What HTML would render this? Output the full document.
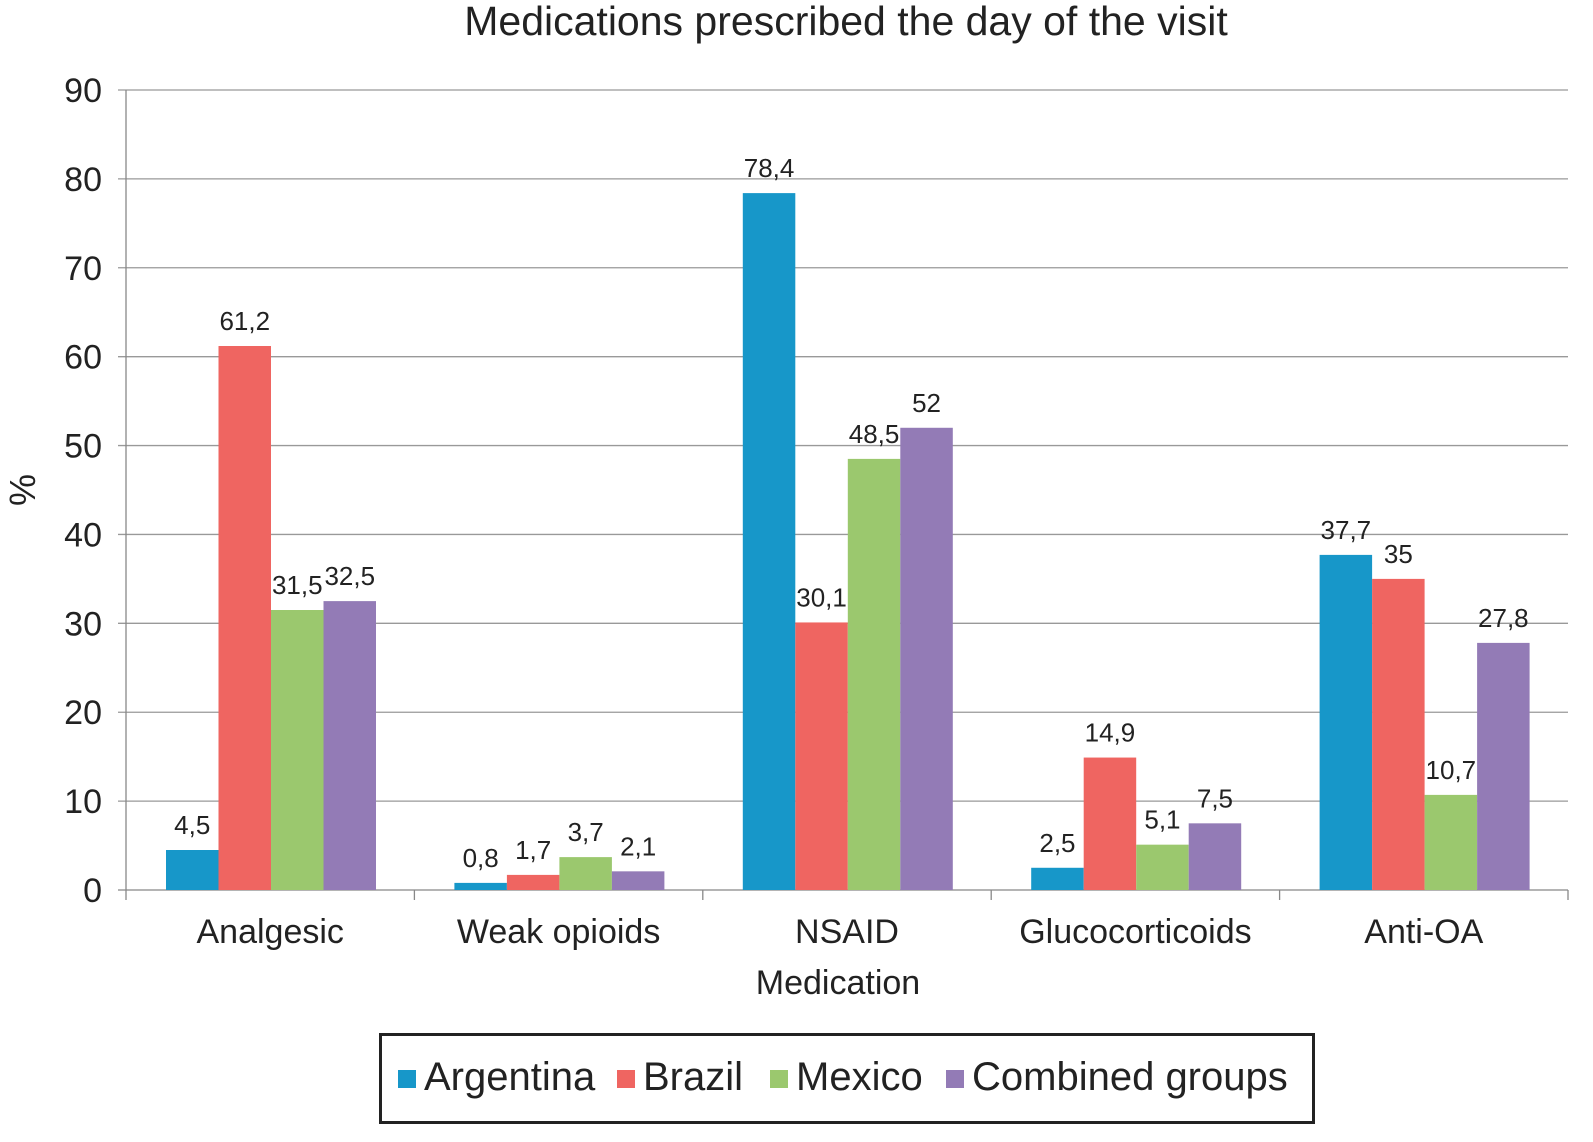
<!DOCTYPE html>
<html><head><meta charset="utf-8"><style>
body{margin:0;background:#fff;}
svg{display:block;font-family:"Liberation Sans",sans-serif;}
</style></head><body>
<svg id="chart" width="1593" height="1142">
<text x="846" y="35" text-anchor="middle" font-size="41" fill="#222">Medications prescribed the day of the visit</text>
<g id="grid"></g><g id="bars"></g><g id="labels"></g><g id="axes"></g>
<text x="838" y="994" text-anchor="middle" font-size="34" fill="#222">Medication</text>
<text transform="translate(35,490) rotate(-90)" text-anchor="middle" font-size="36" fill="#222">%</text>
<g>
<rect x="380.5" y="1034.5" width="933" height="88" fill="#fff" stroke="#222" stroke-width="3"/>
<g id="legend"></g>
</g>
</svg>
<script>
const categories=["Analgesic","Weak opioids","NSAID","Glucocorticoids","Anti-OA"];
const seriesNames=["Argentina","Brazil","Mexico","Combined groups"];
const argentina=[4.5,0.8,78.4,2.5,37.7];
const brazil=[61.2,1.7,30.1,14.9,35];
const mexico=[31.5,3.7,48.5,5.1,10.7];
const combined=[32.5,2.1,52,7.5,27.8];
const yTicks=[0,10,20,30,40,50,60,70,80,90];
const series=[argentina,brazil,mexico,combined];
const colors=["#1797c9","#ef6561","#9bc86e","#937bb6"];
const NS="http://www.w3.org/2000/svg";
const L=126,R=1568,Y0=890,Y90=90;
const y=v=>Y0-(v/90)*(Y0-Y90);
const gw=(R-L)/categories.length, bw=52.5, off=40;
function mk(tag,attrs,parent,text){const e=document.createElementNS(NS,tag);for(const k in attrs)e.setAttribute(k,attrs[k]);if(text!==undefined)e.textContent=text;document.getElementById(parent).appendChild(e);return e;}
yTicks.forEach(t=>{
 const g=mk('line',{x1:L-8,x2:R,y1:y(t),y2:y(t),stroke:t===0?'#888':'#999','stroke-width':1.3},'grid');
 
 
 const tl=mk('text',{x:102,y:y(t)+12,'text-anchor':'end','font-size':34,fill:'#222'},'axes',String(t));
 
 
});
mk('line',{x1:L,x2:L,y1:Y90,y2:Y0,stroke:'#888','stroke-width':1.3},'axes');
for(let i=0;i<=categories.length;i++){
 mk('line',{x1:L+i*gw,x2:L+i*gw,y1:Y0,y2:Y0+10,stroke:'#888','stroke-width':1.3},'axes');
}
categories.forEach((c,i)=>{
 const t=mk('text',{x:L+gw*i+gw/2,y:943,'text-anchor':'middle','font-size':34,fill:'#222'},'axes',c);
 
 
 series.forEach((s,j)=>{
  const x=L+gw*i+off+j*bw, v=s[i];
  const r=mk('rect',{x:x,y:y(v),width:bw,height:Y0-y(v),fill:colors[j]},'bars');
  
  
  const lb=mk('text',{x:x+bw/2,y:y(v)-16,'text-anchor':'middle','font-size':26,fill:'#222'},'labels',String(v).replace('.',','));
  
  
 });
});
const lx=[398,617,770,946];
seriesNames.forEach((n,j)=>{
 const r=mk('rect',{x:lx[j],y:1070,width:18,height:18,fill:colors[j]},'legend');
 
 
 const t=mk('text',{x:lx[j]+26,y:1090,'font-size':40,fill:'#222'},'legend',n);
 
 
});
</script>
</body></html>
